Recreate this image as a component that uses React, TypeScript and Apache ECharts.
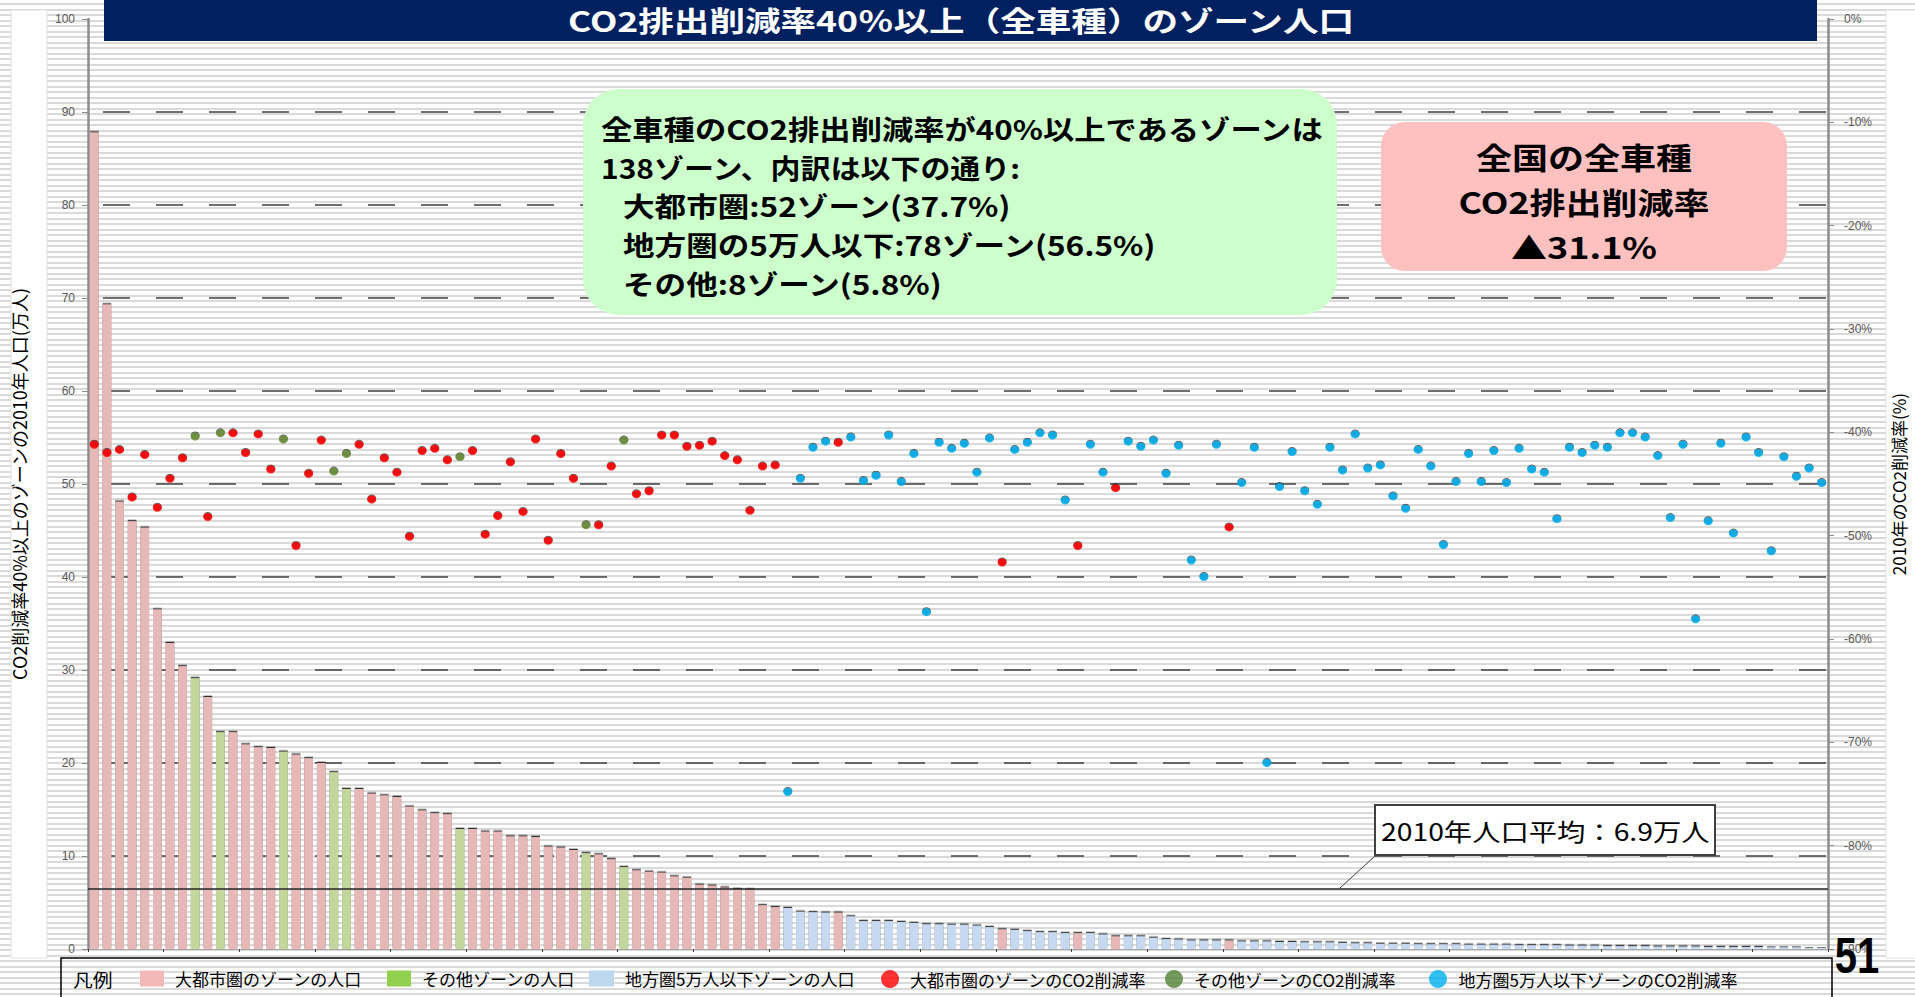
import React, { useEffect, useRef } from 'react';
import * as echarts from 'echarts';

// ---- data ----
// zone type per category: M = 大都市圏, O = その他, R = 地方圏5万人以下
const zoneType = (
  'MMMMMMMM' + 'O' + 'M' + 'O' + 'MMMM' + 'O' + 'MMM' + 'OO' + 'MMMMMMMM' + 'O' +
  'MMMMMMMMM' + 'O' + 'MM' + 'O' + 'MMMMMMMMMMMM' + 'RRRR' + 'M' + 'RRRRRRRRRRRR' + 'M' +
  'RRRRR' + 'M' + 'RR' + 'M' + 'RRRRRRRR' + 'M' +
  'RRRRRRRRRRRRRRRRRRRRRRRRRRRRRRRRRRRRRRRRRRRRRRR'
).split('');

// 2010 population of zones (万人)
const population = [
  87.8, 69.3, 48.1, 46.0, 45.3, 36.5, 32.9, 30.4, 29.1, 27.1,
  23.3, 23.3, 22.0, 21.7, 21.6, 21.2, 20.9, 20.5, 20.0, 19.0,
  17.2, 17.2, 16.7, 16.5, 16.35, 15.3, 14.9, 14.6, 14.5, 12.9,
  12.9, 12.6, 12.6, 12.1, 12.1, 12.05, 11.0, 10.9, 10.65, 10.3,
  10.15, 9.65, 8.8, 8.45, 8.3, 8.2, 7.8, 7.65, 6.9, 6.8,
  6.6, 6.45, 6.4, 4.7, 4.5, 4.4, 4.0, 3.95, 3.9, 3.9,
  3.5, 3.0, 3.0, 3.0, 2.9, 2.8, 2.65, 2.65, 2.6, 2.6,
  2.5, 2.35, 2.1, 2.05, 1.9, 1.8, 1.8, 1.7, 1.7, 1.7,
  1.55, 1.35, 1.35, 1.35, 1.2, 1.05, 1.0, 0.9, 0.9, 0.9,
  0.9, 0.8, 0.8, 0.8, 0.75, 0.75, 0.7, 0.7, 0.7, 0.65,
  0.6, 0.6, 0.55, 0.55, 0.55, 0.5, 0.5, 0.5, 0.5, 0.45,
  0.45, 0.45, 0.45, 0.4, 0.4, 0.4, 0.4, 0.35, 0.35, 0.35,
  0.3, 0.3, 0.3, 0.3, 0.25, 0.25, 0.25, 0.25, 0.2, 0.2,
  0.2, 0.2, 0.2, 0.15, 0.15, 0.15, 0.1, 0.1,
];

// 2010 CO2 reduction rate (%)
const reduction = [
  -41.2, -42.0, -41.7, -46.3, -42.2, -47.3, -44.5, -42.5, -40.4, -48.2,
  -40.1, -40.1, -42.0, -40.2, -43.6, -40.7, -51.0, -44.0, -40.8, -43.8,
  -42.1, -41.2, -46.5, -42.5, -43.9, -50.1, -41.8, -41.6, -42.7, -42.4,
  -41.8, -49.9, -48.1, -42.9, -47.7, -40.7, -50.5, -42.1, -44.5, -49.0,
  -49.0, -43.3, -40.8, -46.0, -45.7, -40.3, -40.3, -41.4, -41.3, -40.9,
  -42.3, -42.7, -47.6, -43.3, -43.2, -74.8, -44.5, -41.5, -40.9, -41.0,
  -40.5, -44.7, -44.2, -40.3, -44.8, -42.1, -57.4, -41.0, -41.6, -41.1,
  -43.9, -40.6, -52.6, -41.7, -41.0, -40.1, -40.3, -46.6, -51.0, -41.2,
  -43.9, -45.4, -40.9, -41.4, -40.8, -44.0, -41.3, -52.4, -54.0, -41.2,
  -49.2, -44.9, -41.5, -72.0, -45.3, -41.9, -45.7, -47.0, -41.5, -43.7,
  -40.2, -43.5, -43.2, -46.2, -47.4, -41.7, -43.3, -50.9, -44.8, -42.1,
  -44.8, -41.8, -44.9, -41.6, -43.6, -43.9, -48.4, -41.5, -42.0, -41.3,
  -41.5, -40.1, -40.1, -40.5, -42.3, -48.3, -41.2, -58.1, -48.6, -41.1,
  -49.8, -40.5, -42.0, -51.5, -42.4, -44.3, -43.5, -44.9,
];

const categories = population.map((_, i) => `ゾーン${i + 1}`);

// average line, as drawn in the picture (its label reads 6.9万人)
const AVG_LINE = 6.5;

const seriesNames = {
  popM: '大都市圏のゾーンの人口',
  popO: 'その他ゾーンの人口',
  popR: '地方圏5万人以下ゾーンの人口',
  rateM: '大都市圏のゾーンのCO2削減率',
  rateO: 'その他ゾーンのCO2削減率',
  rateR: '地方圏5万人以下ゾーンのCO2削減率',
};

const titleText = 'CO2排出削減率40％以上（全車種）のゾーン人口';
const noteLines = [
  '全車種のCO2排出削減率が40%以上であるゾーンは',
  '138ゾーン、内訳は以下の通り:',
  '大都市圏:52ゾーン(37.7%)',
  '地方圏の5万人以下:78ゾーン(56.5%)',
  'その他:8ゾーン(5.8%)',
];
const nationalLines = ['全国の全車種', 'CO2排出削減率', '▲31.1%'];
const avgLabel = '2010年人口平均：6.9万人';
const leftAxisName = 'CO2削減率40%以上のゾーンの2010年人口(万人)';
const rightAxisName = '2010年のCO2削減率(%)';
const pageNumber = '51';

// ---- styles ----
const JP = "'Noto Sans CJK JP', 'Noto Sans', sans-serif";
const LAT = "'Liberation Sans', 'DejaVu Sans', sans-serif";

const byType = (t: string) => population.map((v, i) => (zoneType[i] === t ? v : '-'));
const rateByType = (t: string) => reduction.map((v, i) => (zoneType[i] === t ? v : '-'));

const legendItems = [
  { name: seriesNames.popM, left: 140, icon: 'rect', color: '#f4b8b8', w: 24, h: 16 },
  { name: seriesNames.popO, left: 387, icon: 'rect', color: '#92d050', w: 24, h: 16 },
  { name: seriesNames.popR, left: 589, icon: 'rect', color: '#bdd7ee', w: 25, h: 16 },
  { name: seriesNames.rateM, left: 881, icon: 'circle', color: '#ff0000', w: 18, h: 18 },
  { name: seriesNames.rateO, left: 1165, icon: 'circle', color: '#538135', w: 18, h: 18 },
  { name: seriesNames.rateR, left: 1429, icon: 'circle', color: '#00b0f0', w: 19, h: 18 },
];

const txt = (
  text: string,
  x: number,
  y: number,
  size: number,
  opts: { bold?: boolean; align?: string; scaleX?: number; fill?: string; family?: string } = {}
) => ({
  type: 'text',
  x,
  y,
  scaleX: opts.scaleX ?? 1,
  z: 20,
  style: {
    text,
    fill: opts.fill ?? '#000',
    fontSize: size,
    fontWeight: opts.bold ? 'bold' : 'normal',
    fontFamily: opts.family ?? JP,
    textAlign: opts.align ?? 'left',
    align: opts.align ?? 'left',
    textVerticalAlign: 'middle',
    verticalAlign: 'middle',
  },
});

const barItem = (color: string) => ({
  color,
  shadowColor: 'rgba(30,30,30,0.9)',
  shadowOffsetY: -1.3,
  shadowBlur: 0,
});

const dotItem = (color: string) => ({
  color,
  shadowColor: 'rgba(0,0,0,0.8)',
  shadowOffsetY: -1,
  shadowBlur: 0,
});

const option: any = {
  animation: false,
  backgroundColor: 'transparent',
  grid: { left: 88, right: 80, top: 19, bottom: 48 },
  legend: legendItems.map((it) => ({
    left: it.left,
    top: 970,
    padding: 0,
    selectedMode: false,
    itemWidth: it.w,
    itemHeight: it.h,
    data: [{ name: it.name, icon: it.icon, itemStyle: { color: it.color, borderWidth: 0 } }],
    textStyle: { fontSize: 17, color: '#000', fontFamily: JP, padding: [0, 0, 0, 6] },
  })),
  xAxis: {
    type: 'category',
    data: categories,
    axisLabel: { show: false },
    axisTick: { show: true, length: 3, lineStyle: { color: '#404040' } },
    axisLine: { show: true, lineStyle: { color: '#a6a6a6', width: 1 } },
    splitLine: { show: false },
  },
  yAxis: [
    {
      type: 'value',
      min: 0,
      max: 100,
      interval: 10,
      position: 'left',
      name: leftAxisName,
      nameLocation: 'middle',
      nameRotate: 90,
      nameGap: 60,
      nameTextStyle: { fontSize: 18, color: '#000', fontFamily: JP },
      axisLine: { show: true, lineStyle: { color: '#8c8c8c', width: 2.5 } },
      axisTick: { show: true, inside: false, length: 6, lineStyle: { color: '#8c8c8c' } },
      axisLabel: { fontSize: 12, color: '#595959', fontFamily: LAT, margin: 13 },
      splitLine: {
        show: true,
        showMaxLine: false,
        showMinLine: false,
        lineStyle: { color: '#404040', width: 1.5, type: [27, 26], dashOffset: 38 },
      },
    },
    {
      type: 'value',
      min: -90,
      max: 0,
      interval: 10,
      position: 'right',
      name: rightAxisName,
      nameLocation: 'middle',
      nameRotate: 90,
      nameGap: 62,
      nameTextStyle: { fontSize: 17, color: '#000', fontFamily: JP },
      axisLine: { show: true, lineStyle: { color: '#8c8c8c', width: 2.5 } },
      axisTick: { show: true, inside: false, length: 6, lineStyle: { color: '#8c8c8c' } },
      axisLabel: { fontSize: 12, color: '#595959', fontFamily: LAT, margin: 16, formatter: '{value}%' },
      splitLine: { show: false },
    },
  ],
  series: [
    {
      name: seriesNames.popM,
      type: 'bar',
      stack: 'pop',
      barWidth: 8.7,
      data: byType('M'),
      itemStyle: barItem('#e6b9b8'),
    },
    {
      name: seriesNames.popO,
      type: 'bar',
      stack: 'pop',
      barWidth: 8.7,
      data: byType('O'),
      itemStyle: barItem('#c3d69b'),
    },
    {
      name: seriesNames.popR,
      type: 'bar',
      stack: 'pop',
      barWidth: 8.7,
      data: byType('R'),
      itemStyle: barItem('#c6d9f1'),
      markLine: {
        silent: true,
        symbol: ['none', 'none'],
        label: { show: false },
        lineStyle: { color: '#262626', width: 1.5, type: 'solid' },
        data: [{ yAxis: AVG_LINE }],
      },
    },
    {
      name: seriesNames.rateM,
      type: 'scatter',
      yAxisIndex: 1,
      symbol: 'circle',
      symbolSize: [9, 8],
      data: rateByType('M'),
      itemStyle: dotItem('#ff0000'),
      z: 5,
    },
    {
      name: seriesNames.rateO,
      type: 'scatter',
      yAxisIndex: 1,
      symbol: 'circle',
      symbolSize: [9, 8],
      data: rateByType('O'),
      itemStyle: dotItem('#6a8f3a'),
      z: 5,
    },
    {
      name: seriesNames.rateR,
      type: 'scatter',
      yAxisIndex: 1,
      symbol: 'circle',
      symbolSize: [9, 8],
      data: rateByType('R'),
      itemStyle: dotItem('#00b0f0'),
      z: 5,
    },
  ],
  graphic: [
    // white side panels
    { type: 'rect', z: 0, shape: { x: 11, y: 10, width: 36, height: 948 }, style: { fill: '#fff', stroke: '#e0e0e0', lineWidth: 1 } },
    { type: 'rect', z: 0, shape: { x: 1886, y: 10, width: 40, height: 948 }, style: { fill: '#fff', stroke: '#e0e0e0', lineWidth: 1 } },
    // title bar
    { type: 'rect', z: 10, shape: { x: 104, y: 0, width: 1713, height: 41 }, style: { fill: '#002060' } },
    txt(titleText, 961, 20, 28, { bold: true, align: 'center', scaleX: 1.27, fill: '#fff' }),
    // green note box
    { type: 'rect', z: 10, shape: { x: 583, y: 89, width: 754, height: 226, r: 36 }, style: { fill: '#ccffcc' } },
    txt(noteLines[0], 601, 128, 27, { bold: true, scaleX: 1.16 }),
    txt(noteLines[1], 601, 167, 27, { bold: true, scaleX: 1.11 }),
    txt(noteLines[2], 623, 205, 27, { bold: true, scaleX: 1.17 }),
    txt(noteLines[3], 623, 244, 27, { bold: true, scaleX: 1.17 }),
    txt(noteLines[4], 623, 283, 27, { bold: true, scaleX: 1.17 }),
    // pink national box
    { type: 'rect', z: 10, shape: { x: 1381, y: 122, width: 406, height: 149, r: 24 }, style: { fill: '#ffc0c0' } },
    txt(nationalLines[0], 1584, 156, 30, { bold: true, align: 'center', scaleX: 1.2 }),
    txt(nationalLines[1], 1584, 201, 30, { bold: true, align: 'center', scaleX: 1.2 }),
    txt(nationalLines[2], 1584, 246, 30, { bold: true, align: 'center', scaleX: 1.2 }),
    // average callout
    { type: 'line', z: 10, shape: { x1: 1375, y1: 856, x2: 1340, y2: 888 }, style: { stroke: '#404040', lineWidth: 1 } },
    { type: 'rect', z: 10, shape: { x: 1375, y: 805, width: 340, height: 50 }, style: { fill: '#fff', stroke: '#404040', lineWidth: 2 } },
    txt(avgLabel, 1381, 831, 24, { scaleX: 1.18 }),
    // legend frame
    { type: 'rect', z: 10, shape: { x: 61, y: 958, width: 1771, height: 50 }, style: { fill: 'none', stroke: '#000', lineWidth: 1.5 } },
    txt('凡例', 73, 979, 18, { scaleX: 1.1 }),
    // page number
    txt(pageNumber, 1857, 956, 50, { bold: true, align: 'center', scaleX: 0.8, family: LAT }),
  ],
};

export default function App() {
  const ref = useRef<HTMLDivElement>(null);
  useEffect(() => {
    if (!ref.current) return;
    const chart = echarts.init(ref.current, null, { renderer: 'svg' });
    chart.setOption(option);
    return () => chart.dispose();
  }, []);
  return (
    <div
      ref={ref}
      style={{
        position: 'fixed',
        left: 0,
        top: 0,
        width: 1915,
        height: 997,
        background:
          'repeating-linear-gradient(to bottom, #ffffff 0px, #ffffff 3.5px, #dadada 3.5px, #dadada 5.5px)',
      }}
    />
  );
}
